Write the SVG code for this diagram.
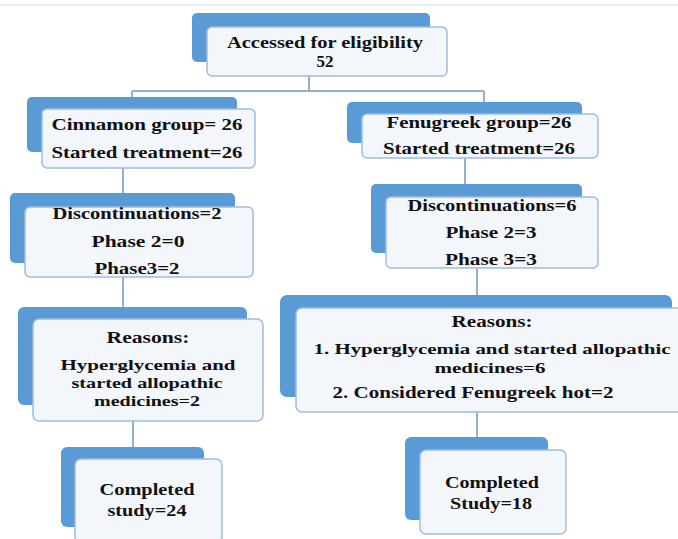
<svg xmlns="http://www.w3.org/2000/svg" width="678" height="539" viewBox="0 0 678 539">
<style>
.back{fill:#5b9bd5}
.front{fill:#f3f6fa;stroke:#9dbde0;stroke-width:1.5}
.conn{stroke:#93b1d3;stroke-width:2;fill:none}
text{font-family:"Liberation Serif","Times New Roman",serif;font-weight:bold;font-size:17px;fill:#111;text-anchor:middle}
.tight{font-size:15.5px}
</style>
<rect x="0" y="0" width="678" height="539" fill="#ffffff"/>
<line x1="0" y1="5" x2="678" y2="5" stroke="#dcdcdc" stroke-width="1"/>
<g id="connectors">
<path class="conn" d="M309 76 V91 M132 91 H484 M132 91 V97 M484 91 V102"/>
<path class="conn" d="M123 168 V193"/>
<path class="conn" d="M123 277 V307"/>
<path class="conn" d="M133 421 V447"/>
<path class="conn" d="M465 158 V184"/>
<path class="conn" d="M477 268 V295"/>
<path class="conn" d="M477 412 V437"/>
</g>
<g id="accessed">
<rect class="back" x="192" y="13" width="238" height="49" rx="5"/>
<rect class="front" x="207" y="27" width="240" height="49" rx="5"/>
<text x="325" y="48" textLength="196" lengthAdjust="spacingAndGlyphs">Accessed for eligibility</text>
<text x="325" y="67">52</text>
</g>
<g id="cinnamon">
<rect class="back" x="27" y="97" width="210" height="55" rx="5"/>
<rect class="front" x="42" y="109" width="213" height="59" rx="5"/>
<text x="147" y="130" textLength="191" lengthAdjust="spacingAndGlyphs">Cinnamon  group= 26</text>
<text x="147" y="158" textLength="191" lengthAdjust="spacingAndGlyphs">Started treatment=26</text>
</g>
<g id="disc-left">
<rect class="back" x="10" y="193" width="225" height="70" rx="5"/>
<rect class="front" x="25" y="207" width="228" height="70" rx="5"/>
<text x="137" y="219" textLength="169" lengthAdjust="spacingAndGlyphs">Discontinuations=2</text>
<text x="138" y="247" textLength="93" lengthAdjust="spacingAndGlyphs">Phase 2=0</text>
<text x="137" y="274" textLength="85" lengthAdjust="spacingAndGlyphs">Phase3=2</text>
</g>
<g id="reasons-left">
<rect class="back" x="18" y="307" width="229" height="98" rx="6"/>
<rect class="front" x="33" y="319" width="230" height="102" rx="6"/>
<text x="148" y="343" textLength="83" lengthAdjust="spacingAndGlyphs">Reasons:</text>
<text class="tight" x="148" y="370" textLength="175" lengthAdjust="spacingAndGlyphs">Hyperglycemia  and</text>
<text class="tight" x="147" y="388" textLength="151" lengthAdjust="spacingAndGlyphs">started allopathic</text>
<text class="tight" x="147" y="406" textLength="106" lengthAdjust="spacingAndGlyphs">medicines=2</text>
</g>
<g id="completed-left">
<rect class="back" x="61" y="447" width="143" height="80" rx="6"/>
<rect class="front" x="75" y="459" width="147" height="84" rx="6"/>
<text x="147" y="495" textLength="95" lengthAdjust="spacingAndGlyphs">Completed</text>
<text x="147" y="516" textLength="79" lengthAdjust="spacingAndGlyphs">study=24</text>
</g>
<g id="fenugreek">
<rect class="back" x="347" y="102" width="235" height="41" rx="5"/>
<rect class="front" x="362" y="114" width="236" height="44" rx="5"/>
<text x="479" y="128" textLength="185" lengthAdjust="spacingAndGlyphs">Fenugreek group=26</text>
<text x="479" y="154" textLength="192" lengthAdjust="spacingAndGlyphs">Started treatment=26</text>
</g>
<g id="disc-right">
<rect class="back" x="371" y="184" width="211" height="69" rx="5"/>
<rect class="front" x="386" y="197" width="212" height="71" rx="5"/>
<text x="492" y="211" textLength="169" lengthAdjust="spacingAndGlyphs">Discontinuations=6</text>
<text x="491" y="238" textLength="91" lengthAdjust="spacingAndGlyphs">Phase 2=3</text>
<text x="491" y="265" textLength="92" lengthAdjust="spacingAndGlyphs">Phase 3=3</text>
</g>
<g id="reasons-right">
<rect class="back" x="280" y="295" width="392" height="102" rx="7"/>
<rect class="front" x="296" y="308" width="390" height="104" rx="6"/>
<text x="492" y="327" textLength="81" lengthAdjust="spacingAndGlyphs">Reasons:</text>
<text class="tight" x="492" y="354" textLength="357" lengthAdjust="spacingAndGlyphs">1. Hyperglycemia  and started allopathic</text>
<text class="tight" x="490" y="373" textLength="111" lengthAdjust="spacingAndGlyphs">medicines=6</text>
<text x="473" y="398" textLength="281" lengthAdjust="spacingAndGlyphs">2. Considered Fenugreek hot=2</text>
</g>
<g id="completed-right">
<rect class="back" x="405" y="437" width="143" height="83" rx="6"/>
<rect class="front" x="420" y="450" width="146" height="84" rx="6"/>
<text x="492" y="488" textLength="94" lengthAdjust="spacingAndGlyphs">Completed</text>
<text x="491" y="509" textLength="82" lengthAdjust="spacingAndGlyphs">Study=18</text>
</g>
</svg>
